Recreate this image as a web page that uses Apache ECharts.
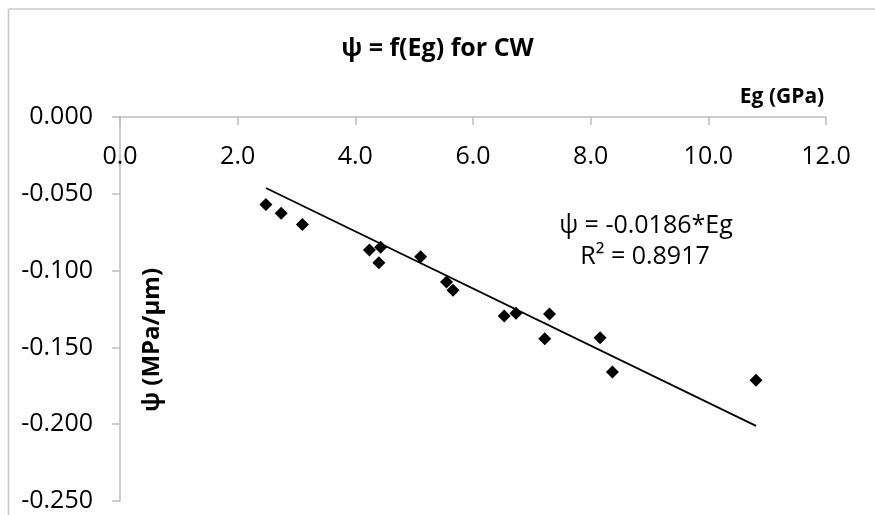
<!DOCTYPE html>
<html>
<head>
<meta charset="utf-8">
<script src="https://cdn.jsdelivr.net/npm/echarts@6/dist/echarts.min.js"></script>
<style>
  html, body { margin: 0; padding: 0; background: #ffffff; }
  #chart { width: 875px; height: 515px; }
</style>
</head>
<body>
<div id="chart"></div>
<script>
// ---- data ----
const egValues = [2.48, 2.74, 3.10, 4.24, 4.43, 4.40, 5.11, 5.55, 5.66, 6.53, 6.73, 7.30, 7.22, 8.16, 8.37, 10.81];
const psiValues = [-0.0570, -0.0627, -0.0700, -0.0866, -0.0848, -0.0949, -0.0910, -0.1074, -0.1128, -0.1296, -0.1278, -0.1283, -0.1443, -0.1437, -0.1660, -0.1714];
const trendX = [2.48, 10.81];
const trendY = [-0.0462, -0.2011];
const xTicks = [0, 2, 4, 6, 8, 10, 12];
const yTicks = [0, -0.05, -0.10, -0.15, -0.20, -0.25];
const titleText = 'ψ = f(Eg) for CW';
const xAxisTitle = 'Eg (GPa)';
const yAxisTitle = 'ψ (MPa/μm)';
const equationText = 'ψ = -0.0186*Eg';
const r2Text = 'R² = 0.8917';

const FONT = '"Open Sans", "Liberation Sans", sans-serif';
const AXIS_GREY = '#bdbdbd';

const scatterData = egValues.map((x, i) => [x, psiValues[i]]);
const trendData = trendX.map((x, i) => [x, trendY[i]]);

const chart = echarts.init(document.getElementById('chart'), null, { renderer: 'canvas' });
chart.setOption({
  backgroundColor: '#ffffff',
  animation: false,
  title: {
    text: titleText,
    left: 'center',
    top: 36,
    padding: [0, 0, 0, 11],
    textStyle: { fontFamily: FONT, fontSize: 25, fontWeight: 'bold', color: '#000' }
  },
  grid: { left: 120, right: 49, top: 117, bottom: 14, containLabel: false },
  xAxis: {
    type: 'value',
    position: 'top',
    min: xTicks[0],
    max: xTicks[xTicks.length - 1],
    interval: xTicks[1] - xTicks[0],
    axisLine: { show: true, onZero: false, lineStyle: { color: AXIS_GREY, width: 1.5 } },
    axisTick: { show: true, inside: true, length: 8, lineStyle: { color: AXIS_GREY, width: 1.5 } },
    axisLabel: {
      inside: true, margin: 27,
      fontFamily: FONT, fontSize: 25, color: '#000',
      formatter: v => v.toFixed(1)
    },
    splitLine: { show: false }
  },
  yAxis: {
    type: 'value',
    min: yTicks[yTicks.length - 1],
    max: yTicks[0],
    interval: 0.05,
    axisLine: { show: true, onZero: false, lineStyle: { color: AXIS_GREY, width: 1.5 } },
    axisTick: { show: true, inside: false, length: 8, lineStyle: { color: AXIS_GREY, width: 1.5 } },
    axisLabel: {
      margin: 27,
      fontFamily: FONT, fontSize: 25, color: '#000',
      formatter: v => v.toFixed(3)
    },
    splitLine: { show: false }
  },
  graphic: [
    {
      type: 'line', silent: true, z: -1,
      shape: { x1: 8.5, y1: 9, x2: 875, y2: 9 },
      style: { stroke: '#c8c8c8', lineWidth: 1.5 }
    },
    {
      type: 'line', silent: true, z: -1,
      shape: { x1: 8.5, y1: 9, x2: 8.5, y2: 515 },
      style: { stroke: '#c8c8c8', lineWidth: 1.5 }
    },
    {
      type: 'text', x: 782, y: 97,
      style: { text: xAxisTitle, font: 'bold 21px ' + FONT, fill: '#000', align: 'center', verticalAlign: 'middle' }
    },
    {
      type: 'text', x: 152, y: 340, rotation: Math.PI / 2,
      style: { text: yAxisTitle, font: 'bold 24px ' + FONT, fill: '#000', align: 'center', verticalAlign: 'middle' }
    },
    {
      type: 'text', x: 646, y: 226,
      style: { text: equationText, font: '25px ' + FONT, fill: '#000', align: 'center', verticalAlign: 'middle' }
    },
    {
      type: 'text', x: 645, y: 257,
      style: { text: r2Text, font: '25px ' + FONT, fill: '#000', align: 'center', verticalAlign: 'middle' }
    }
  ],
  series: [
    {
      name: 'CW',
      type: 'scatter',
      data: scatterData,
      symbol: 'diamond',
      symbolSize: 13,
      itemStyle: { color: '#000', opacity: 1 },
      z: 3
    },
    {
      name: 'Linear fit',
      type: 'line',
      data: trendData,
      showSymbol: false,
      symbol: 'none',
      lineStyle: { color: '#000', width: 1.8 },
      z: 2
    }
  ]
});
</script>
</body>
</html>
